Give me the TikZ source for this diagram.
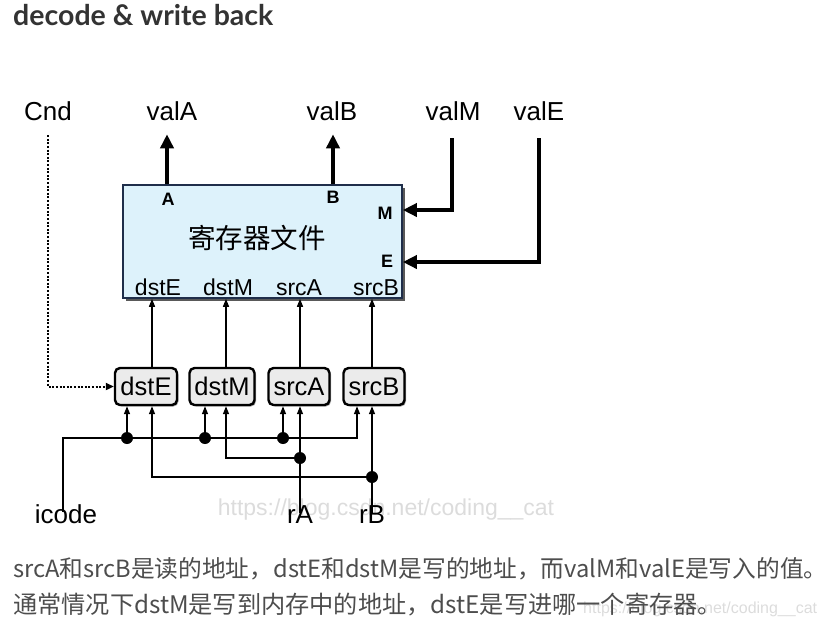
\documentclass[tikz,border=0pt]{standalone}
\usepackage{fontspec}
\setmainfont{Liberation Sans}
\newfontfamily\titlefont{Lato}
\newfontfamily\cjk{Noto Sans CJK SC}
\usetikzlibrary{arrows.meta,shadows}
\definecolor{regfill}{HTML}{DDF2FB}
\definecolor{regborder}{HTML}{1F2E4A}
\definecolor{txtgray}{HTML}{4D4D4D}
\definecolor{titlegray}{HTML}{333333}
\definecolor{boxfill}{HTML}{EBEBEB}
\definecolor{wm}{HTML}{DCDCDC}
\begin{document}
\begin{tikzpicture}[x=1pt,y=-1pt,
  lab/.style={inner sep=0pt, outer sep=0pt, font=\fontsize{26}{30}\selectfont},
  inlab/.style={inner sep=0pt, font=\fontsize{23}{26}\selectfont},
  portlab/.style={inner sep=0pt, font=\fontsize{18}{20}\selectfont\bfseries},
  regbox/.style={draw=regborder, line width=1.6pt, fill=regfill,
     minimum width=279pt, minimum height=113pt, inner sep=0pt,
     drop shadow={shadow xshift=3pt, shadow yshift=-3pt, fill=black!65, opacity=1}},
  smallbox/.style={draw=black, line width=2.4pt, fill=boxfill, rounded corners=5pt,
     minimum height=37pt, inner sep=0pt, font=\fontsize{25.5}{28}\selectfont,
     drop shadow={shadow xshift=1.5pt, shadow yshift=-1.5pt, fill=black!35, opacity=1}},
  bigarrow/.style={line width=4pt, -{Triangle[width=13pt,length=14pt]}},
  wirearrow/.style={line width=1.4pt, -{Triangle[width=6pt,length=8pt]}},
  dotarrow/.style={line width=2pt, dash pattern=on 2pt off 1.6pt, -{Triangle[width=7pt,length=8pt]}},
  jdot/.style={circle, fill=black, inner sep=0pt, minimum size=12pt}
]
\useasboundingbox (0,0) rectangle (826,633);

% title
\node[anchor=base west, inner sep=0pt, text=titlegray] (title) at (13,25)
  {\titlefont\bfseries\fontsize{28.5}{32}\selectfont decode \& write back};

% diagram watermark
\node[inner sep=0pt, text=wm, font=\fontsize{23}{26}\selectfont] (wm1) at (386,510) {https://blog.csdn.net/coding\_\_cat};

% helper coordinates
\coordinate (xA) at (167,0);
\coordinate (xB) at (333,0);
\coordinate (x0) at (63,0);
\coordinate (c1) at (152,0);
\coordinate (c2) at (226,0);
\coordinate (c3) at (300,0);
\coordinate (c4) at (372,0);
\coordinate (i1) at (127,0);
\coordinate (i2) at (205,0);
\coordinate (i3) at (283,0);
\coordinate (i4) at (357,0);
\coordinate (yM) at (0,210);
\coordinate (yE) at (0,262);
\coordinate (yI) at (0,438);
\coordinate (yA) at (0,458);
\coordinate (yB) at (0,477);

% top labels
\node[lab, anchor=base] (Cnd) at (48,120) {Cnd};
\node[lab, anchor=base] (valA) at (172,120) {valA};
\node[lab, anchor=base] (valB) at (332,120) {valB};
\node[lab, anchor=base] (valM) at (453,120) {valM};
\node[lab, anchor=base] (valE) at (539,120) {valE};

% register file
\node[regbox] (reg) at (262.5,241.5) {};
\node[inner sep=0pt, font=\cjk\fontsize{27.5}{30}\selectfont] (regname) at (257,238) {寄存器文件};
\node[portlab] (pA) at (168,199) {A};
\node[portlab] (pB) at (333,197) {B};
\node[portlab] (pM) at (385,213) {M};
\node[portlab] (pE) at (387,261) {E};
\node[inlab, anchor=base] (rdstE) at (158,295) {dstE};
\node[inlab, anchor=base] (rdstM) at (228,295) {dstM};
\node[inlab, anchor=base] (rsrcA) at (299,295) {srcA};
\node[inlab, anchor=base] (rsrcB) at (376,295) {srcB};

% small boxes
\node[smallbox, minimum width=62pt] (dstEb) at (146,386.5) {dstE};
\node[smallbox, minimum width=65pt] (dstMb) at (222,386.5) {dstM};
\node[smallbox, minimum width=61pt] (srcAb) at (299,386.5) {srcA};
\node[smallbox, minimum width=61pt] (srcBb) at (374,386.5) {srcB};

% bottom labels
\node[lab, anchor=base] (icode) at (66,523) {icode};
\node[lab, anchor=base] (rA) at (300,523) {rA};
\node[lab, anchor=base] (rB) at (372,523) {rB};

% thick outputs / inputs
\draw[bigarrow] (reg.north -| xA) -- ([yshift=-14pt]valA.south -| xA);
\draw[bigarrow] (reg.north -| xB) -- ([yshift=-14pt]valB.south -| xB);
\draw[bigarrow] ([xshift=-1pt,yshift=-18pt]valM.south) |- (reg.east |- yM);
\draw[bigarrow] ([yshift=-18pt]valE.south) |- (reg.east |- yE);

% Cnd dotted
\draw[dotarrow] ([yshift=-15pt]Cnd.south) |- (dstEb.west);

% small box to register file
\draw[wirearrow] (c1 |- dstEb.north) -- (c1 |- reg.south);
\draw[wirearrow] (c2 |- dstMb.north) -- (c2 |- reg.south);
\draw[wirearrow] (c3 |- srcAb.north) -- (c3 |- reg.south);
\draw[wirearrow] (c4 |- srcBb.north) -- (c4 |- reg.south);

% icode bus
\draw[wirearrow] ([yshift=-8pt]icode.north -| x0) |- (i4 |- yI) -- (i4 |- srcBb.south);
\draw[wirearrow] (i1 |- yI) -- (i1 |- dstEb.south);
\draw[wirearrow] (i2 |- yI) -- (i2 |- dstMb.south);
\draw[wirearrow] (i3 |- yI) -- (i3 |- srcAb.south);
\node[jdot] (d1) at (i1 |- yI) {};
\node[jdot] (d2) at (i2 |- yI) {};
\node[jdot] (d3) at (i3 |- yI) {};

% rA
\draw[wirearrow] ([yshift=-8pt]rA.north) -- (c3 |- srcAb.south);
\draw[wirearrow] (c3 |- yA) -| (c2 |- dstMb.south);
\node[jdot] (d4) at (c3 |- yA) {};

% rB
\draw[wirearrow] ([yshift=-8pt]rB.north) -- (c4 |- srcBb.south);
\draw[wirearrow] (c4 |- yB) -| (c1 |- dstEb.south);
\node[jdot] (d5) at (c4 |- yB) {};

% bottom watermark
\node[anchor=base west, inner sep=0pt, text=wm, font=\fontsize{16}{18}\selectfont] (wm2) at (583,613) {https://blog.csdn.net/coding\_\_cat};

% description text
\node[anchor=base west, inner sep=0pt, text=txtgray] (line1) at (13,577)
  {\cjk\fontsize{23.7}{28}\selectfont srcA和srcB是读的地址，dstE和dstM是写的地址，而valM和valE是写入的值。};
\node[anchor=base west, inner sep=0pt, text=txtgray] (line2) at (13,613)
  {\cjk\fontsize{24.2}{28}\selectfont 通常情况下dstM是写到内存中的地址，dstE是写进哪一个寄存器。};
\end{tikzpicture}
\end{document}
